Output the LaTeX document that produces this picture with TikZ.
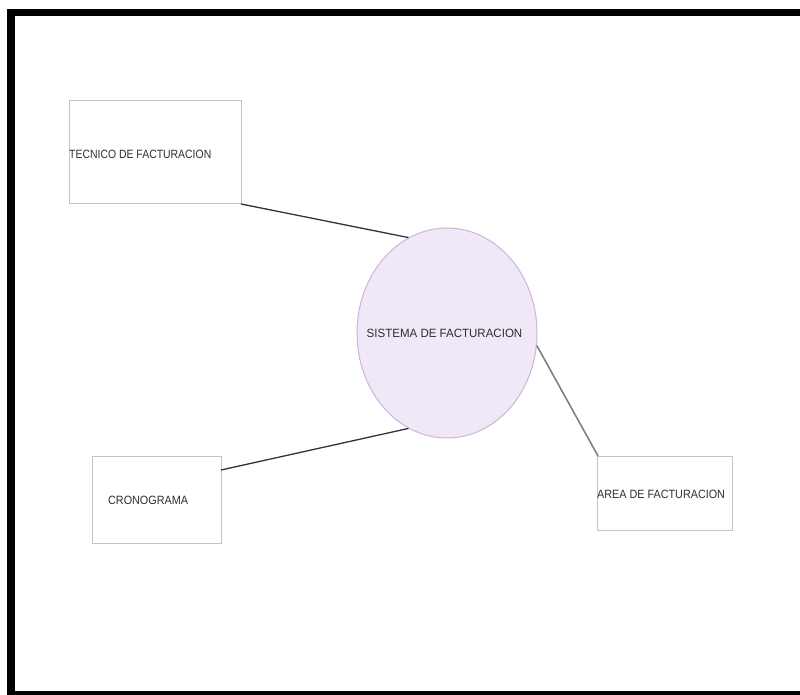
\documentclass[tikz,border=0pt]{standalone}
\usepackage{fontspec}
\setmainfont{Liberation Sans}
\usetikzlibrary{shapes.geometric}
\definecolor{framegray}{HTML}{C4C4C4}
\definecolor{lavfill}{HTML}{F1E8F7}
\definecolor{lavline}{HTML}{CDB4DE}
\definecolor{linkdark}{HTML}{333333}
\definecolor{linkgray}{HTML}{7A7A7A}
\definecolor{txt}{HTML}{2E2E2E}
\newcommand{\lbl}[2][0.9]{\scalebox{#1}[1]{\fontsize{12}{14}\selectfont\color{txt}#2}}
\tikzset{
  entity/.style={draw=framegray, line width=1pt, fill=white, rectangle, inner sep=0pt},
  process/.style={draw=lavline, fill=lavfill, line width=1pt, ellipse, inner sep=0pt},
  link/.style={draw=linkdark, line width=1.3pt},
  band/.style={fill=black, draw=none}
}
\begin{document}
\begin{tikzpicture}[x=1pt, y=-1pt]
\useasboundingbox (0,0) rectangle (800,695);
% page frame (top, left and bottom edges)
\fill[band] (7,9) rectangle (800,16);
\fill[band] (7,9) rectangle (15,695);
\fill[band] (7,691) rectangle (800,695);

% external entities
\node[entity, minimum width=172pt, minimum height=103pt] (tec) at (155,152.5) {};
\node[anchor=west, inner sep=0pt] (tectxt) at (69,154) {\lbl[0.87]{TECNICO DE FACTURACION}};
\node[entity, minimum width=129pt, minimum height=87pt] (cro) at (156.5,499.5) {};
\node[anchor=west, inner sep=0pt] (crotxt) at (108,500) {\lbl{CRONOGRAMA}};
\node[entity, minimum width=135pt, minimum height=74pt] (area) at (664.5,493) {};
\node[anchor=west, inner sep=0pt] (areatxt) at (597,494) {\lbl{AREA DE FACTURACION}};

% central process
\node[process, minimum width=180pt, minimum height=210pt] (sys) at (447,333) {};
\node[inner sep=0pt] (systxt) at (444.5,333) {\lbl[0.96]{SISTEMA DE FACTURACION}};

% data flows
\coordinate (tecend) at (241,204);
\coordinate (croend) at (221,470);
\coordinate (areaend) at (598,456);
\draw[link] (tecend) -- (sys.112);
\draw[link] (croend) -- (sys.248);
\draw[link, draw=linkgray, line width=1.5pt] (sys.-8) -- (areaend);
\end{tikzpicture}
\end{document}
